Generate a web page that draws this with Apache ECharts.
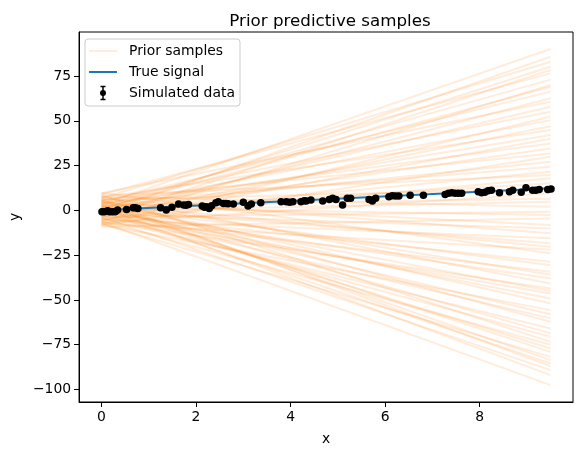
<!DOCTYPE html>
<html>
<head>
<meta charset="utf-8">
<script src="https://cdn.jsdelivr.net/npm/echarts@6/dist/echarts.min.js"></script>
<style>
  html, body { margin: 0; padding: 0; background: #fff; }
  #chart { width: 583px; height: 455px; }
</style>
</head>
<body>
<div id="chart"></div>
<script>
// prior samples: value at x = 0 and at x = 9.5 for each line
const priorStartX = 0;
const priorEndX = 9.5;
const priorStart = [3.2, -1.5, 6.8, 0.4, -4.1, 8.9, 2.5, -6.3, 1.1, 4.7,
  -2.8, 9.6, -0.7, 5.3, -7.9, 2.0, -3.4, 7.1, 0.9, -5.6,
  3.8, -1.2, 6.0, -8.4, 1.7, 4.2, -2.1, 8.3, -4.8, 0.2,
  5.9, -6.9, 2.9, -0.3, 7.6, -3.7, 1.4, -9.1, 4.4, -1.9,
  6.5, -5.2, 0.6, 3.5, -7.2, 9.9, -2.4, 1.9, -4.5, 5.1,
  -0.9, 7.8, -6.1, 2.3, -3.1, 0.0, 4.9, -8.0, 1.3, -1.6,
  6.2, -4.3, 3.0, -2.6, 8.5, -5.9, 0.8, 2.7, -7.5, 4.0,
  -0.5, 5.6, -3.9, 1.5, -6.6];
const priorEnd = [90.1, 85.8, 83.0, 80.2, 78.4, 76.5, 73.0, 70.0, 69.0, 66.3,
  62.6, 60.7, 57.9, 55.1, 52.3, 50.4, 47.0, 44.9, 42.1, 40.0,
  37.4, 34.6, 31.8, 30.0, 27.2, 24.4, 21.6, 19.7, 17.9, 15.1,
  12.0, 9.5, 6.5, 4.8, 2.0, -0.8, -2.6, -4.5, -8.2, -10.1,
  -12.8, -15.6, -18.4, -20.3, -22.0, -24.0, -28.7, -30.6, -34.3, -36.0,
  -38.0, -40.8, -43.6, -45.0, -46.4, -49.2, -52.0, -55.7, -58.0, -60.3,
  -62.2, -66.0, -68.7, -70.6, -73.4, -75.0, -77.1, -79.0, -81.8, -83.6,
  -85.5, -87.0, -89.2, -92.0, -97.6];

// true signal endpoints
const trueX = [0, 9.5];
const trueY = [0.0, 12.3];

// simulated data
const dataX = [0.01, 0.06, 0.13, 0.17, 0.23, 0.29, 0.34, 0.53, 0.67, 0.72,
  0.77, 1.25, 1.37, 1.49, 1.63, 1.74, 1.79, 1.84, 2.13, 2.18,
  2.22, 2.28, 2.33, 2.42, 2.47, 2.58, 2.63, 2.68, 2.79, 3.0,
  3.1, 3.17, 3.37, 3.8, 3.91, 3.98, 4.05, 4.22, 4.29,
  4.33, 4.43, 4.68, 4.82, 4.89, 4.96, 5.1, 5.2, 5.27, 5.66,
  5.73, 5.8, 6.08, 6.15, 6.22, 6.29, 6.53, 6.81, 7.27, 7.34,
  7.41, 7.48, 7.55, 7.62, 7.97, 8.04, 8.11, 8.18, 8.25, 8.42,
  8.63, 8.7, 8.88, 8.98, 9.12, 9.19, 9.26, 9.44, 9.51];
const dataY = [-0.8, -0.8, -0.2, -0.8, -0.8, -0.8, 0.2, 0.5, 1.5, 1.5,
  1.1, 1.5, 0.2, 1.7, 3.5, 3.0, 2.9, 3.3, 2.4, 1.7,
  2.0, 1.1, 2.6, 4.3, 4.8, 3.9, 3.9, 3.7, 3.5, 4.5,
  2.4, 3.5, 4.3, 4.8, 4.8, 4.5, 4.8, 4.8, 5.4,
  5.2, 5.8, 5.2, 6.1, 6.7, 6.1, 3.0, 6.7, 6.7, 6.1,
  5.2, 6.7, 7.6, 8.2, 8.0, 8.0, 8.5, 8.5, 8.9, 9.5,
  9.9, 9.5, 9.5, 9.5, 10.4, 9.9, 10.1, 11.0, 11.2, 9.9,
  10.4, 11.2, 10.1, 12.6, 11.3, 11.3, 11.7, 11.7, 12.0];

const xTicks = [0, 2, 4, 6, 8];
const yTicks = [-100, -75, -50, -25, 0, 25, 50, 75];

const orange = 'rgba(255,127,14,0.15)';
const font = 'DejaVu Sans';
const fmt = v => String(v).replace('-', '\u2212');

const chart = echarts.init(document.getElementById('chart'));

const series = [];
priorStart.forEach((a, i) => {
  series.push({
    type: 'line',
    data: [[priorStartX, a], [priorEndX, priorEnd[i]]],
    symbol: 'none',
    silent: true,
    lineStyle: { color: orange, width: 2 },
    z: 1
  });
});
series.push({
  type: 'line',
  data: trueX.map((x, i) => [x, trueY[i]]),
  symbol: 'none',
  lineStyle: { color: '#1f77b4', width: 2 },
  z: 2
});
series.push({
  type: 'scatter',
  data: dataX.map((x, i) => [x, dataY[i]]),
  symbolSize: 7.5,
  itemStyle: { color: '#000', opacity: 1 },
  z: 3
});

chart.setOption({
  animation: false,
  title: {
    text: 'Prior predictive samples',
    left: 325,
    top: 8,
    textAlign: 'center',
    textStyle: { fontFamily: font, fontSize: 16.7, fontWeight: 'normal', color: '#000' }
  },
  grid: {
    left: 77, right: 10, top: 32, bottom: 53,
    show: true, borderColor: '#000', borderWidth: 1
  },
  xAxis: {
    type: 'value',
    min: -0.475,
    max: 9.975,
    name: 'x',
    nameLocation: 'middle',
    nameGap: 30,
    nameTextStyle: { fontFamily: font, fontSize: 13.9, color: '#000' },
    splitLine: { show: false },
    axisLine: { show: true, onZero: false, lineStyle: { color: '#000' } },
    axisTick: { show: true, length: 5, customValues: xTicks, lineStyle: { color: '#000' } },
    axisLabel: { customValues: xTicks, margin: 8, fontFamily: font, fontSize: 13.9, color: '#000', formatter: fmt }
  },
  yAxis: {
    type: 'value',
    min: -107,
    max: 99.6,
    name: 'y',
    nameLocation: 'middle',
    nameGap: 56,
    nameRotate: 90,
    nameTextStyle: { fontFamily: font, fontSize: 13.9, color: '#000' },
    splitLine: { show: false },
    axisLine: { show: true, onZero: false, lineStyle: { color: '#000' } },
    axisTick: { show: true, length: 5, customValues: yTicks, lineStyle: { color: '#000' } },
    axisLabel: { customValues: yTicks, margin: 8, fontFamily: font, fontSize: 13.9, color: '#000', formatter: fmt }
  },
  series: series,
  graphic: [{
    type: 'group',
    z: 100,
    children: [
      { type: 'rect', shape: { x: 85, y: 39, width: 155, height: 67, r: 3 },
        style: { fill: 'rgba(255,255,255,0.8)', stroke: '#cccccc', lineWidth: 1 } },
      { type: 'line', shape: { x1: 89, y1: 51, x2: 117, y2: 51 },
        style: { stroke: orange, lineWidth: 2 } },
      { type: 'text', x: 129, y: 51,
        style: { text: 'Prior samples', fontFamily: font, fontSize: 13.9, fill: '#000', verticalAlign: 'middle' } },
      { type: 'line', shape: { x1: 89, y1: 72, x2: 117, y2: 72 },
        style: { stroke: '#1f77b4', lineWidth: 2 } },
      { type: 'text', x: 129, y: 72,
        style: { text: 'True signal', fontFamily: font, fontSize: 13.9, fill: '#000', verticalAlign: 'middle' } },
      { type: 'line', shape: { x1: 103, y1: 86.5, x2: 103, y2: 99.5 },
        style: { stroke: '#000', lineWidth: 1.5 } },
      { type: 'line', shape: { x1: 100.5, y1: 86.5, x2: 105.5, y2: 86.5 },
        style: { stroke: '#000', lineWidth: 1.5 } },
      { type: 'line', shape: { x1: 100.5, y1: 99.5, x2: 105.5, y2: 99.5 },
        style: { stroke: '#000', lineWidth: 1.5 } },
      { type: 'circle', shape: { cx: 103, cy: 93, r: 3 }, style: { fill: '#000' } },
      { type: 'text', x: 129, y: 93,
        style: { text: 'Simulated data', fontFamily: font, fontSize: 13.9, fill: '#000', verticalAlign: 'middle' } }
    ]
  }]
});
</script>
</body>
</html>
